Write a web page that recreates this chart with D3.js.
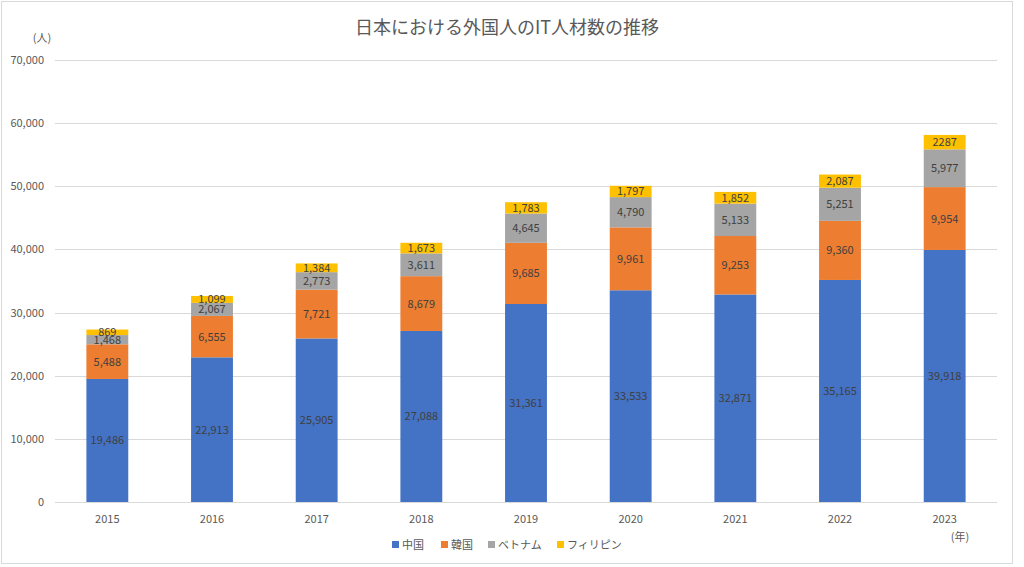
<!DOCTYPE html>
<html><head><meta charset="utf-8">
<script src="https://cdn.jsdelivr.net/npm/d3@7"></script>
<style>
html,body{margin:0;padding:0;background:#fff;}
svg text{font-family:"Noto Sans CJK JP","Noto Sans",sans-serif;}
</style></head>
<body><svg id="c" width="1024" height="567"></svg>
<script>
const years = ["2015","2016","2017","2018","2019","2020","2021","2022","2023"];
const seriesNames = ["中国","韓国","ベトナム","フィリピン"];
const china = [19486,22913,25905,27088,31361,33533,32871,35165,39918];
const korea = [5488,6555,7721,8679,9685,9961,9253,9360,9954];
const vietnam = [1468,2067,2773,3611,4645,4790,5133,5251,5977];
const philippines = [869,1099,1384,1673,1783,1797,1852,2087,2287];
const philippinesLabels = ["869","1,099","1,384","1,673","1,783","1,797","1,852","2,087","2287"];
const yTicks = [0,10000,20000,30000,40000,50000,60000,70000];
const colors = ["#4472C4","#ED7D31","#A5A5A5","#FFC000"];

const svg = d3.select("#c");
svg.append("rect").attr("x",1.5).attr("y",1.5).attr("width",1011).attr("height",562)
  .attr("fill","#fff").attr("stroke","#d9d9d9").attr("stroke-width",1);

const x = d3.scaleBand().domain(years).range([55,997]).paddingInner(0.6).paddingOuter(0.3);
const y = d3.scaleLinear().domain([0,70000]).range([502,60]);

svg.append("text").attr("x",507).attr("y",34).attr("text-anchor","middle")
  .attr("font-size",18).attr("fill","#595959").text("日本における外国人のIT人材数の推移");

const g = svg.append("g");
g.selectAll("line.grid").data(yTicks).enter().append("line")
  .attr("x1",55).attr("x2",997).attr("y1",d=>Math.round(y(d))+0.5).attr("y2",d=>Math.round(y(d))+0.5)
  .attr("stroke","#d9d9d9").attr("stroke-width",1);
g.selectAll("text.yt").data(yTicks).enter().append("text")
  .attr("x",44).attr("y",d=>y(d)+4).attr("text-anchor","end")
  .attr("font-size",11).attr("fill","#595959").text(d=>d3.format(",")(d));

svg.append("text").attr("x",42).attr("y",42).attr("text-anchor","middle")
  .attr("font-size",11).attr("fill","#595959").text("(人)");
svg.append("text").attr("x",960).attr("y",541).attr("text-anchor","middle")
  .attr("font-size",11).attr("fill","#595959").text("(年)");

g.selectAll("text.xt").data(years).enter().append("text")
  .attr("x",d=>x(d)+x.bandwidth()/2).attr("y",523).attr("text-anchor","middle")
  .attr("font-size",11).attr("fill","#595959").text(d=>d);

const table = years.map((yr,i)=>({year:yr,"中国":china[i],"韓国":korea[i],"ベトナム":vietnam[i],"フィリピン":philippines[i],idx:i}));
const stack = d3.stack().keys(seriesNames)(table);
const fmt = d3.format(",");

stack.forEach((layer,li)=>{
  const lg = svg.append("g");
  lg.selectAll("rect").data(layer).enter().append("rect")
    .attr("x",d=>x(d.data.year)).attr("width",x.bandwidth())
    .attr("y",d=>y(d[1])).attr("height",d=>y(d[0])-y(d[1]))
    .attr("fill",colors[li]);
  lg.selectAll("text").data(layer).enter().append("text")
    .attr("x",d=>x(d.data.year)+x.bandwidth()/2)
    .attr("y",d=>(y(d[0])+y(d[1]))/2+4)
    .attr("text-anchor","middle").attr("font-size",11).attr("fill","#404040")
    .text(d=> li===3 ? philippinesLabels[d.data.idx] : fmt(d[1]-d[0]));
});

// legend
const legX = [392,441,488,557];
const leg = svg.append("g");
seriesNames.forEach((n,i)=>{
  leg.append("rect").attr("x",legX[i]).attr("y",541).attr("width",7).attr("height",7).attr("fill",colors[i]);
  leg.append("text").attr("x",legX[i]+10).attr("y",548.5).attr("font-size",11).attr("fill","#595959").text(n);
});
</script></body></html>
